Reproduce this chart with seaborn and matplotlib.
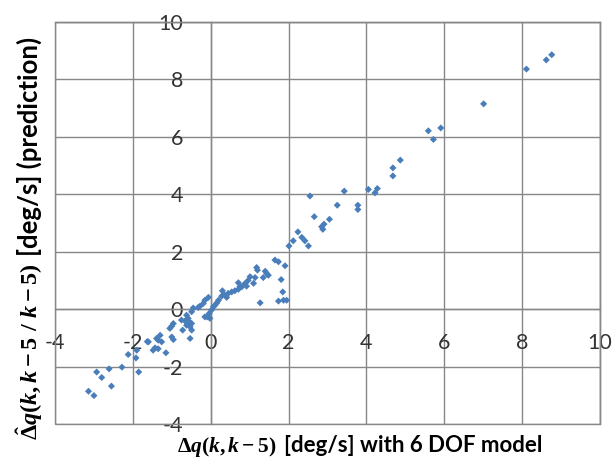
import matplotlib
matplotlib.use("Agg")
import matplotlib.pyplot as plt
import pandas as pd
import seaborn as sns
from matplotlib.patches import Rectangle
from matplotlib.ticker import MultipleLocator

# Angular-rate change over 5 steps: 6 DOF model (x) vs. prediction (y), deg/s
measured = [
    8.76, 8.62, 8.11, 7.01, 5.91, 5.59, 5.72, 4.87, 4.68, 4.68,
    4.28, 4.22, 4.05, 3.43, 2.55, 3.25, 3.78, 3.78, 2.66, 3.05,
    2.91, 2.85, 2.88, 2.24, 2.34, 2.12, 2.42, 2.51, 2.01, 1.65,
    1.74, 1.91, 1.18, 1.20, 1.40, 1.44, 1.48, 1.14, 1.35, 1.01,
    1.81, 1.10, 1.85, 1.27, 1.74, 1.87, 1.95, 0.96, 0.71, 0.88,
    0.80, 0.71, 0.62, 0.54, 0.45, 0.30, 0.28, 0.41, 0.20, 0.11,
    0.07, 0.02, -0.04, 0.75, 0.92, 0.35, 0.16, -0.06, -0.15, -0.19,
    -0.28, -0.45, -0.49, -0.32, -0.15, -0.02, -0.09, -0.62, -0.58, -0.66,
    -0.55, -0.75, -0.49, -0.53, -0.72, -0.49, -0.53, -0.96, -1.00, -1.05,
    -1.00, -0.96, -1.30, -1.35, -1.26, -1.39, -1.60, -1.43, -1.35, -1.48,
    -1.15, -1.63, -1.90, -2.12, -1.92, -2.28, -2.61, -1.85, -2.93, -2.80,
    -2.55, -3.14, -3.00, -0.62,
]
predicted = [
    8.86, 8.68, 8.36, 7.15, 6.31, 6.21, 5.91, 5.19, 4.92, 4.64,
    4.20, 4.05, 4.17, 4.11, 3.94, 3.62, 3.62, 3.47, 3.22, 3.13,
    2.96, 2.87, 2.78, 2.69, 2.50, 2.38, 2.38, 2.20, 2.20, 1.71,
    1.65, 1.51, 1.45, 1.36, 1.32, 1.24, 1.18, 1.10, 1.10, 1.13,
    1.03, 0.90, 0.60, 0.22, 0.28, 0.31, 0.31, 1.00, 0.92, 0.89,
    0.78, 0.69, 0.64, 0.60, 0.55, 0.64, 0.45, 0.41, 0.31, 0.14,
    0.08, -0.03, -0.15, 0.78, 0.80, 0.50, 0.22, 0.41, 0.31, 0.20,
    0.10, 0.04, -0.09, 0.06, -0.27, -0.32, -0.27, -0.21, -0.32, -0.41,
    -0.44, -0.38, -0.50, -0.62, -0.73, -0.73, -1.02, -0.50, -0.59, -0.67,
    -0.97, -1.06, -0.91, -1.08, -1.14, -1.02, -1.14, -1.35, -1.38, -1.43,
    -1.52, -1.13, -1.43, -1.58, -1.70, -2.02, -2.08, -2.19, -2.19, -2.38,
    -2.68, -2.86, -3.01, -0.56,
]
x_ticks = [-4, -2, 0, 2, 4, 6, 8, 10]
y_ticks = [-4, -2, 0, 2, 4, 6, 8, 10]

sns.set_theme(style="white")
plt.rcParams["font.family"] = ["Lato", "DejaVu Sans"]
plt.rcParams["axes.unicode_minus"] = False
plt.rcParams["mathtext.fontset"] = "custom"
plt.rcParams["mathtext.rm"] = "Liberation Serif:bold"
plt.rcParams["mathtext.it"] = "Liberation Serif:italic:bold"
plt.rcParams["mathtext.bf"] = "Liberation Serif:bold"

GRID = "#878787"
W, H = 614, 459

fig = plt.figure(figsize=(W / 100, H / 100), dpi=100)
ax = fig.add_axes([55 / W, 1 - 424 / H, 545 / W, 402 / H])

df = pd.DataFrame({"measured": measured, "predicted": predicted})
sns.scatterplot(data=df, x="measured", y="predicted", ax=ax, marker="D",
                s=13, color="#4A7EBB", edgecolor="none", linewidth=0, zorder=5)

ax.set_xlim(-4, 10)
ax.set_ylim(-4, 10)
ax.set_xticks(x_ticks)
ax.set_yticks(y_ticks)
ax.xaxis.set_minor_locator(MultipleLocator(0.4))
ax.yaxis.set_minor_locator(MultipleLocator(0.4))
ax.grid(True, which="major", color=GRID, lw=1.0)
ax.set_axisbelow(True)

# axes cross at the origin, outer frame in grey
ax.spines["left"].set_position(("data", 0))
ax.spines["bottom"].set_position(("data", 0))
for side in ["left", "bottom", "top", "right"]:
    ax.spines[side].set_color(GRID)
    ax.spines[side].set_linewidth(1.0)
ax.add_patch(Rectangle((0, 0), 1, 1, transform=ax.transAxes, fill=False,
                       ec=GRID, lw=1.0, clip_on=False, zorder=4))

ax.tick_params(which="both", direction="out", color=GRID, width=1.0,
               labelsize=15.5, labelcolor="#333333")
ax.tick_params(which="major", length=3)
ax.tick_params(which="minor", length=2.5)
ax.tick_params(axis="x", which="major", pad=14)
ax.tick_params(axis="y", which="major", pad=17)
ax.set_xlabel("")
ax.set_ylabel("")

# axis titles: math part in serif bold italic, words in bold sans
GAP = 7

xm = fig.text(177 / W, 1 - 452 / H, r"$\mathit{\Delta} q(k, k-5)$",
              ha="left", va="baseline", fontsize=15.5, color="black")
ym = fig.text(38 / W, 1 - 440 / H,
              r"$\hat{\mathit{\Delta}} q(k, k-5\ /\ k-5)$",
              ha="left", va="baseline", rotation=90, rotation_mode="anchor",
              fontsize=17.5, color="black")
fig.canvas.draw()
bx = xm.get_window_extent()
by = ym.get_window_extent()
fig.text((bx.x1 + GAP) / W, 1 - 452 / H, "[deg/s] with 6 DOF model",
         ha="left", va="baseline", fontsize=16, fontweight="bold",
         color="black")
fig.text(38 / W, (by.y1 + GAP) / H, "[deg/s] (prediction)",
         ha="left", va="baseline", rotation=90, rotation_mode="anchor",
         fontsize=18.5, fontweight="bold", color="black")

fig.savefig("out.png", dpi=100)
